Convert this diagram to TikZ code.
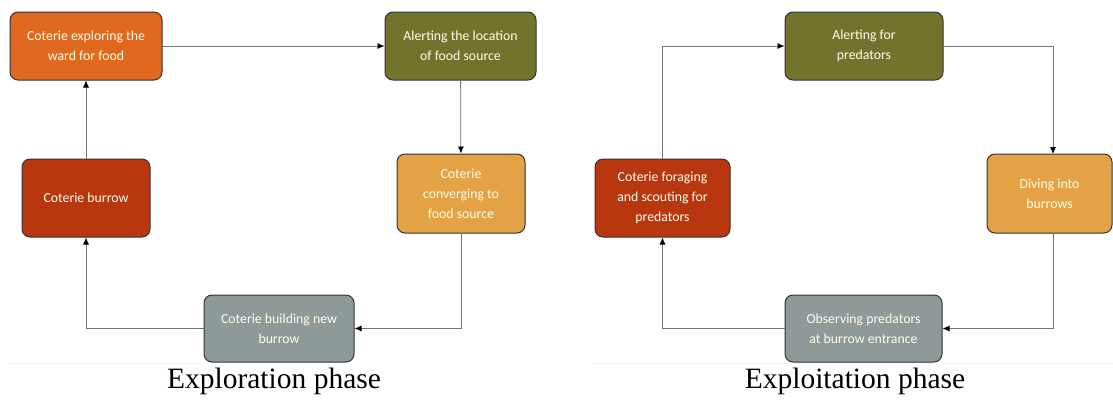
\documentclass[tikz,border=0pt]{standalone}
\usepackage{fontspec}
\setmainfont{Liberation Serif}
\newfontfamily\boxfont{Carlito}
\usetikzlibrary{arrows.meta}
\definecolor{cOrange}{HTML}{E0691F}
\definecolor{cOlive}{HTML}{72742E}
\definecolor{cSand}{HTML}{E4A246}
\definecolor{cGrey}{HTML}{8E999A}
\definecolor{cRust}{HTML}{B8370F}
\begin{document}
\begin{tikzpicture}[x=1pt, y=-1pt,
		box_style/.style={draw=black!80, line width=1pt, rounded corners=8pt, inner sep=0pt,
			align=center, text=white!92!yellow, font=\boxfont\fontsize{13.8}{20}\selectfont},
		edge_style/.style={draw=black!55, line width=0.8pt, -{Latex[length=7pt,width=6pt,color=black]}},
		caption_style/.style={font=\fontsize{29.5}{32}\selectfont, inner sep=0pt}]
		\useasboundingbox (0,0) rectangle (1113,399);
		% exploration phase
		\node[box_style, fill=cOrange, minimum width=152pt, minimum height=68pt] (n1) at (86,46) {Coterie exploring the\\ward for food};
		\node[box_style, fill=cOlive, minimum width=151pt, minimum height=68pt] (n2) at (460.5,46) {Alerting the location\\of food source};
		\node[box_style, fill=cSand, minimum width=128pt, minimum height=79pt] (n3) at (461,193.5) {Coterie\\converging to\\food source};
		\node[box_style, fill=cGrey, minimum width=150pt, minimum height=67pt] (n4) at (279,328.5) {Coterie building new\\burrow};
		\node[box_style, fill=cRust, minimum width=128pt, minimum height=78pt] (n5) at (86,198) {Coterie burrow};
		\draw[edge_style] (n1) -- (n2);
		\draw[edge_style] (n2) -- (n3);
		\draw[edge_style] (n3.south) |- (n4.east);
		\draw[edge_style] (n4.west) -| (n5.south);
		\draw[edge_style] (n5) -- (n1);
		\draw[black!4, line width=0.8pt] (8,363) -- (n4.south west |- 0,363);
		\node[caption_style] (c1) at (274,381) {Exploration phase};
		% exploitation phase
		\node[box_style, fill=cOlive, minimum width=158pt, minimum height=68pt] (m1) at (864,46) {Alerting for\\predators};
		\node[box_style, fill=cSand, minimum width=125pt, minimum height=79pt] (m2) at (1049.5,193.5) {Diving into\\burrows};
		\node[box_style, fill=cGrey, minimum width=157pt, minimum height=67pt] (m3) at (863.5,328.5) {Observing predators\\at burrow entrance};
		\node[box_style, fill=cRust, minimum width=135pt, minimum height=78pt] (m4) at (662.5,198) {Coterie foraging\\and scouting for\\predators};
		\coordinate (m2top) at (1053,154);
		\coordinate (m2bot) at (1053,233);
		\draw[edge_style] (m4.north) |- (m1.west);
		\draw[edge_style] (m1.east) -| (m2top);
		\draw[edge_style] (m2bot) |- (m3.east);
		\draw[edge_style] (m3.west) -| (m4.south);
		\draw[black!4, line width=0.8pt] (592,363) -- (1113,363);
		\node[caption_style] (c2) at (855,381) {Exploitation phase};
\end{tikzpicture}
\end{document}
